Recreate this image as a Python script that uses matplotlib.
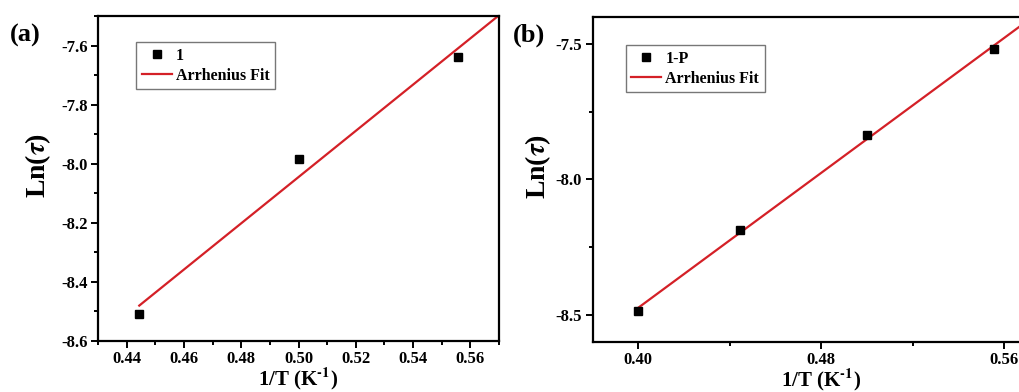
import numpy as np
import matplotlib
matplotlib.use("Agg")
import matplotlib.pyplot as plt
from matplotlib.ticker import MultipleLocator, FormatStrFormatter

plt.rcParams['font.family'] = ['Liberation Serif', 'DejaVu Serif']
plt.rcParams['font.weight'] = 'bold'
plt.rcParams['mathtext.fontset'] = 'stix'
plt.rcParams['axes.unicode_minus'] = False

# panel (a): sample 1
xa = [0.4444, 0.5000, 0.5556]
ya = [-8.510, -7.985, -7.640]
# panel (b): sample 1-P
xb = [0.4000, 0.4444, 0.5000, 0.5556]
yb = [-8.487, -8.185, -7.836, -7.517]

red = '#d42027'

fig = plt.figure(figsize=(10.2, 3.92), dpi=100)
ax1 = fig.add_axes([0.0961, 0.130, 0.3931, 0.829])
ax2 = fig.add_axes([0.581, 0.1276, 0.4485, 0.829])


def panel(ax, x, y, name, xmax):
    k, b = np.polyfit(x, y, 1)
    xf = np.array([x[0], xmax])
    ax.plot(x, y, 's', color='black', markersize=5.5, label=name, zorder=3)
    ax.plot(xf, k * xf + b, color=red, lw=1.6, label='Arrhenius Fit')
    for s in ax.spines.values():
        s.set_linewidth(1.6)
    ax.tick_params(which='both', direction='out', width=1.4, labelsize=12,
                   top=False, right=False, pad=2.5)
    ax.tick_params(which='major', length=5)
    ax.tick_params(which='minor', length=3)
    ax.set_xlabel(r'1/T (K$^{\mathbf{\text{-1}}}$)', fontsize=15, fontweight='bold', labelpad=-1)
    ax.set_ylabel(r'Ln($\tau$)', fontsize=20, fontweight='bold')
    ax.legend(loc='upper left', frameon=True, fancybox=False, edgecolor='#555555',
              fontsize=11.5, handlelength=1.9, borderpad=0.35, labelspacing=0.25,
              handletextpad=0.25, borderaxespad=0)


panel(ax1, xa, ya, '1', 0.57)
ax1.set_xlim(0.43, 0.57)
ax1.set_ylim(-8.6, -7.5)
ax1.xaxis.set_major_locator(MultipleLocator(0.02))
ax1.xaxis.set_minor_locator(MultipleLocator(0.01))
ax1.yaxis.set_major_locator(MultipleLocator(0.2))
ax1.yaxis.set_minor_locator(MultipleLocator(0.1))
ax1.xaxis.set_major_formatter(FormatStrFormatter('%.2f'))
ax1.yaxis.set_major_formatter(FormatStrFormatter('%.1f'))
ax1.get_legend().set_bbox_to_anchor((0.095, 0.92))
ax1.yaxis.set_label_coords(-0.112, 0.54)

panel(ax2, xb, yb, '1-P', 0.58)
ax2.set_xlim(0.38, 0.58)
ax2.set_ylim(-8.6, -7.4)
ax2.xaxis.set_major_locator(MultipleLocator(0.08))
ax2.xaxis.set_minor_locator(MultipleLocator(0.04))
ax2.yaxis.set_major_locator(MultipleLocator(0.5))
ax2.yaxis.set_minor_locator(MultipleLocator(0.25))
ax2.xaxis.set_major_formatter(FormatStrFormatter('%.2f'))
ax2.yaxis.set_major_formatter(FormatStrFormatter('%.1f'))
ax2.get_legend().set_bbox_to_anchor((0.072, 0.914))
ax2.yaxis.set_label_coords(-0.087, 0.54)

fig.text(0.010, 0.895, '(a)', fontsize=19, fontweight='bold')
fig.text(0.503, 0.895, '(b)', fontsize=19, fontweight='bold')

fig.savefig('out.png', dpi=100)
